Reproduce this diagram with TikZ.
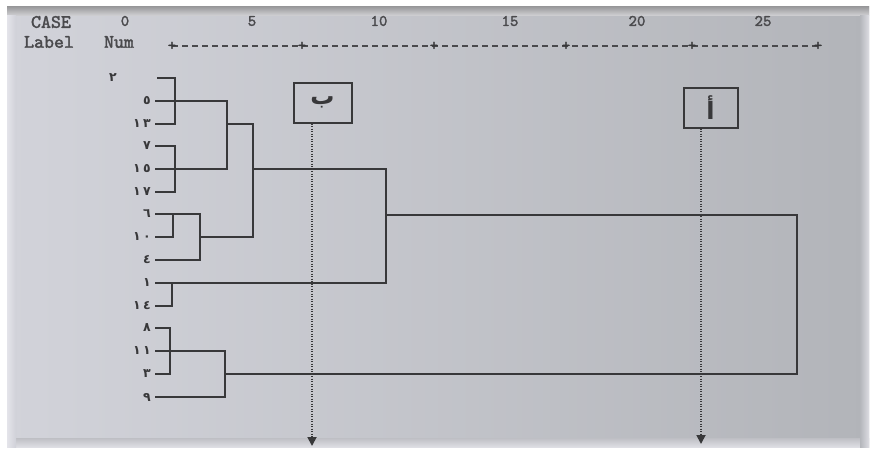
\documentclass[tikz,border=0pt]{standalone}
\usepackage{fontspec}
\newfontfamily\hdrfont{lmmono10-regular}[Extension=.otf, FakeBold=2]
\newfontfamily\arabicfont[Script=Arabic]{DejaVu Sans}
\usetikzlibrary{arrows.meta}
\definecolor{ink}{HTML}{38383A}
\definecolor{txt}{HTML}{4A4A4D}
\newcommand{\dg}{\kern2.5pt}
\tikzset{
  dend/.style={draw=ink, line width=2.1pt, line join=miter},
  lab/.style={anchor=east, inner sep=0pt, text=ink, font=\arabicfont\bfseries\fontsize{12.5}{12.5}\selectfont},
  hdr/.style={inner sep=0pt, text=txt, font=\hdrfont\fontsize{19}{19}\selectfont},
  box/.style={draw=ink, line width=2pt, fill=none, inner sep=0pt, font=\arabicfont\bfseries\fontsize{24}{24}\selectfont, text=ink},
  dotarrow/.style={draw=ink, line width=1.8pt, dash pattern=on 1.3pt off 1.2pt, -{Triangle[length=9pt,width=9pt]}},
  axis/.style={draw=txt, line width=1.3pt, dash pattern=on 6pt off 4pt},
  tick/.style={inner sep=0pt, text=ink, font=\hdrfont\fontsize{16}{16}\selectfont}
}
\begin{document}
\begin{tikzpicture}[x=1pt,y=-1pt]
\useasboundingbox (0,0) rectangle (876,455);
\fill[white] (0,0) rectangle (876,455);
\shade[left color={rgb,255:red,210;green,211;blue,218}, right color={rgb,255:red,178;green,180;blue,185}] (7,6) rectangle (869,447);
\shade[top color={rgb,255:red,150;green,150;blue,152}, bottom color={rgb,255:red,205;green,205;blue,208}] (7,6) rectangle (869,15);
\shade[top color={rgb,255:red,190;green,191;blue,196}, bottom color={rgb,255:red,222;green,222;blue,228}] (7,438) rectangle (869,447);
\shade[left color={rgb,255:red,228;green,228;blue,234}, right color={rgb,255:red,208;green,209;blue,216}] (7,15) rectangle (16,447);
\shade[left color={rgb,255:red,180;green,182;blue,187}, right color={rgb,255:red,220;green,220;blue,226}] (860,15) rectangle (869,447);

% header
\node[hdr] (case) at (51,22) {CASE};
\node[hdr] (label) at (49,42) {Label};
\node[hdr] (num) at (119,42) {Num};
\foreach \v/\x in {0/125,5/252,10/379,15/510,20/637,25/763}
  \node[tick, text=txt] (t\v) at (\x,21) {\v};
\foreach \i/\x in {0/172,1/302,2/434,3/566,4/692,5/818}
  \coordinate (ax\i) at (\x,46);
\draw[axis] (ax0) -- (ax5);
\foreach \i in {0,...,5}
  \node[tick] (pl\i) at (ax\i) {+};

% leaves
\foreach \n/\y/\t in {b/101/٥, c/124/١\dg٣, d/146/٧, e/169/١\dg٥, f/192/١\dg٧, g/214/٦, h/237/١\dg٠, i/260/٤, j/283/١, k/306/١\dg٤, l/328/٨, m/351/١\dg١, n/374/٣, o/397/٩}{
  \node[lab] (L\n) at (151,\y) {\t};
  \coordinate (p\n) at (155,\y);
}
\node[lab, anchor=center] (La) at (113,78) {٢};
\coordinate (pa) at (157,78);

% join coordinates
\coordinate (j1a) at (175,78);  \coordinate (j1b) at (175,124);
\coordinate (j2a) at (175,146); \coordinate (j2b) at (175,192);
\coordinate (j3a) at (227,101); \coordinate (j3b) at (227,169);
\coordinate (j4a) at (173,214); \coordinate (j4b) at (173,237);
\coordinate (j5a) at (200,214); \coordinate (j5b) at (200,260); \coordinate (j5c) at (200,237);
\coordinate (j6a) at (227,124); \coordinate (j6b) at (253,124); \coordinate (j6c) at (253,237); \coordinate (j6d) at (253,169);
\coordinate (j7a) at (172,283); \coordinate (j7b) at (172,306);
\coordinate (j8a) at (386,169); \coordinate (j8b) at (386,283); \coordinate (j8c) at (386,215);
\coordinate (j9a) at (170,328); \coordinate (j9b) at (170,374);
\coordinate (j10a) at (225,351); \coordinate (j10b) at (225,397); \coordinate (j10c) at (225,374);
\coordinate (j11a) at (797,215); \coordinate (j11b) at (797,374);

\draw[dend] (pa) -- (j1a) -- (j1b) -- (pc);
\draw[dend] (pb) -- (j3a) -- (j3b) -- (pe);
\draw[dend] (pd) -- (j2a) -- (j2b) -- (pf);
\draw[dend] (j6a) -- (j6b) -- (j6c) -- (j5c);
\draw[dend] (pg) -- (j5a) -- (j5b) -- (pi);
\draw[dend] (j4a) -- (j4b) -- (ph);
\draw[dend] (j6d) -- (j8a) -- (j8b) -- (pj);
\draw[dend] (j7a) -- (j7b) -- (pk);
\draw[dend] (j8c) -- (j11a) -- (j11b) -- (j10c);
\draw[dend] (pl) -- (j9a) -- (j9b) -- (pn);
\draw[dend] (pm) -- (j10a) -- (j10b) -- (po);

% boxes and arrows
\node[box, minimum width=58pt, minimum height=40pt] (B) at (322.5,102.5) {ب};
\node[box, minimum width=54pt, minimum height=40pt] (A) at (710.5,107.5) {أ};
\coordinate (Bend) at (312,446);
\coordinate (Aend) at (701,444);
\draw[dotarrow] (B.south -| Bend) -- (Bend);
\draw[dotarrow] (A.south -| Aend) -- (Aend);
\end{tikzpicture}
\end{document}
